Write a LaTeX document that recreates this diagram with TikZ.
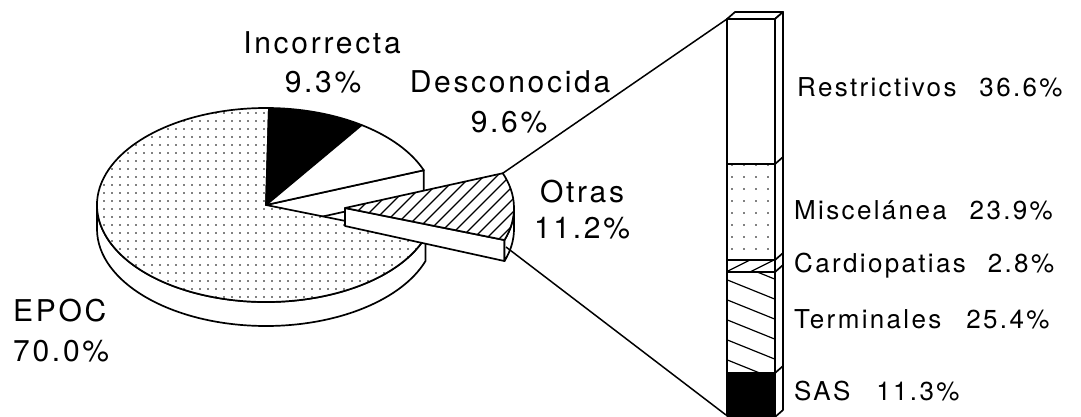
\documentclass[tikz,border=0pt]{standalone}
\usepackage{fontspec}
\usetikzlibrary{patterns,calc}
\newfontfamily\lblfont{TeX Gyre Heros}[LetterSpace=9]
\pgfdeclarepatternformonly{epocdots}{\pgfqpoint{-1pt}{-1pt}}{\pgfqpoint{1pt}{1pt}}{\pgfqpoint{8pt}{8pt}}{\pgfpathcircle{\pgfpointorigin}{0.85pt}\pgfusepath{fill}}
\pgfdeclarepatternformonly{miscdots}{\pgfqpoint{-1pt}{-1pt}}{\pgfqpoint{1pt}{1pt}}{\pgfqpoint{12pt}{12pt}}{\pgfpathcircle{\pgfpointorigin}{0.85pt}\pgfusepath{fill}}
\begin{document}
\begin{tikzpicture}[x=1pt,y=-1pt,
  outline/.style={draw=black,line width=1.7pt,line join=round},
  hatchline/.style={line width=1.2pt},
  connector/.style={draw=black,line width=1.5pt},
  pielabel/.style={inner sep=0pt,anchor=base,font=\lblfont\fontsize{30}{36}\selectfont},
  pieleft/.style={inner sep=0pt,anchor=base west,font=\lblfont\fontsize{30}{36}\selectfont},
  barlabel/.style={inner sep=0pt,anchor=base west,font=\lblfont\fontsize{26}{30}\selectfont}]
\useasboundingbox (0,0) rectangle (1081,417);
\fill[white] (0,0) rectangle (1081,417);
\coordinate (C) at (266,205);
\coordinate (Co) at (345,208);
% EPOC outer side
\draw[outline,fill=white] ($(C)+(19.3:169 and 97)$) arc[start angle=19.3,end angle=180,x radius=169,y radius=97] -- ++(0,24) arc[start angle=180,end angle=19.3,x radius=169,y radius=97] -- cycle;
% Desconocida cut wall
\draw[outline,fill=white] (C) -- ($(C)+(-21:169 and 97)$) -- ++(0,24) -- ($(C)+(0,24)$) -- cycle;
% EPOC top
\draw[outline,preaction={fill=white},pattern=epocdots] (C) -- ($(C)+(19.3:169 and 97)$) arc[start angle=19.3,end angle=271,x radius=169,y radius=97] -- cycle;
% Incorrecta top
\draw[outline,fill=black] (C) -- ($(C)+(-89:169 and 97)$) arc[start angle=-89,end angle=-55.5,x radius=169,y radius=97] -- cycle;
% Desconocida top
\draw[outline,fill=white] (C) -- ($(C)+(-55.5:169 and 97)$) arc[start angle=-55.5,end angle=-21,x radius=169,y radius=97] -- cycle;
% Otras (exploded)
\draw[outline,fill=white] (Co) -- ($(Co)+(19.3:169 and 97)$) -- ++(0,21) -- ($(Co)+(0,18)$) -- cycle;
\draw[outline,fill=white] ($(Co)+(0:169 and 97)$) arc[start angle=0,end angle=19.3,x radius=169,y radius=97] -- ++(0,21) arc[start angle=19.3,end angle=0,x radius=169,y radius=97] -- cycle;
\begin{scope}
\clip (Co) -- ($(Co)+(-21:169 and 97)$) arc[start angle=-21,end angle=19.3,x radius=169,y radius=97] -- cycle;
\fill[white] (330,160) rectangle (520,250);
\foreach \k in {0,...,19} \draw[hatchline] ({237+13*\k},280) -- ++(130,-130);
\end{scope}
\draw[outline] (Co) -- ($(Co)+(-21:169 and 97)$) arc[start angle=-21,end angle=19.3,x radius=169,y radius=97] -- cycle;
% bar
\draw[outline,fill=white] (727,19) -- (735,12) -- (783,12) -- (775,19) -- cycle;
\draw[outline,fill=white] (775,19) -- (783,12) -- (783,410) -- (775,417) -- cycle;
\foreach \yy in {164,260,272,373} \draw[outline] (775,\yy) -- ++(8,-7);
\draw[outline,fill=white] (727,19) rectangle (775,164);
\draw[outline,preaction={fill=white},pattern=miscdots] (727,164) rectangle (775,260);
\begin{scope}
\clip (727,260) rectangle (775,272);
\foreach \k in {0,...,2} \draw[hatchline] ({722+24*\k},274) -- ++(32,-16);
\end{scope}
\draw[outline] (727,260) rectangle (775,272);
\begin{scope}
\clip (727,272) rectangle (775,373);
\foreach \k in {0,...,6} \draw[hatchline] (720,{257+20*\k}) -- ++(62,25);
\end{scope}
\draw[outline] (727,272) rectangle (775,373);
\draw[outline,fill=black] (727,373) rectangle (775,416);
% connectors
\coordinate (otrasTop) at ($(Co)+(-21:169 and 97)$);
\coordinate (otrasLow) at (506,247);
\coordinate (barTL) at (727,19);
\coordinate (barBL) at (726,415);
\draw[connector] (otrasTop) -- (barTL);
\draw[connector] (otrasLow) -- (barBL);
% labels
\node[pielabel] (incL) at (322,54) {Incorrecta};
\node[pielabel] (incP) at (323,93) {9.3\%};
\node[pielabel] (desL) at (510,93) {Desconocida};
\node[pielabel] (desP) at (509,132) {9.6\%};
\node[pielabel] (otrL) at (582,202) {Otras};
\node[pielabel] (otrP) at (582,238) {11.2\%};
\node[pieleft] (epoL) at (13,321) {EPOC};
\node[pieleft] (epoP) at (13,361) {70.0\%};
\node[barlabel] (resL) at (797,97) {Restrictivos\hspace{23pt}36.6\%};
\node[barlabel] (misL) at (794,219) {Miscelánea\hspace{23pt}23.9\%};
\node[barlabel] (carL) at (794,272) {Cardiopatias\hspace{22pt}2.8\%};
\node[barlabel] (terL) at (794,328) {Terminales\hspace{25pt}25.4\%};
\node[barlabel] (sasL) at (794,400) {SAS\hspace{26pt}11.3\%};
\end{tikzpicture}
\end{document}
